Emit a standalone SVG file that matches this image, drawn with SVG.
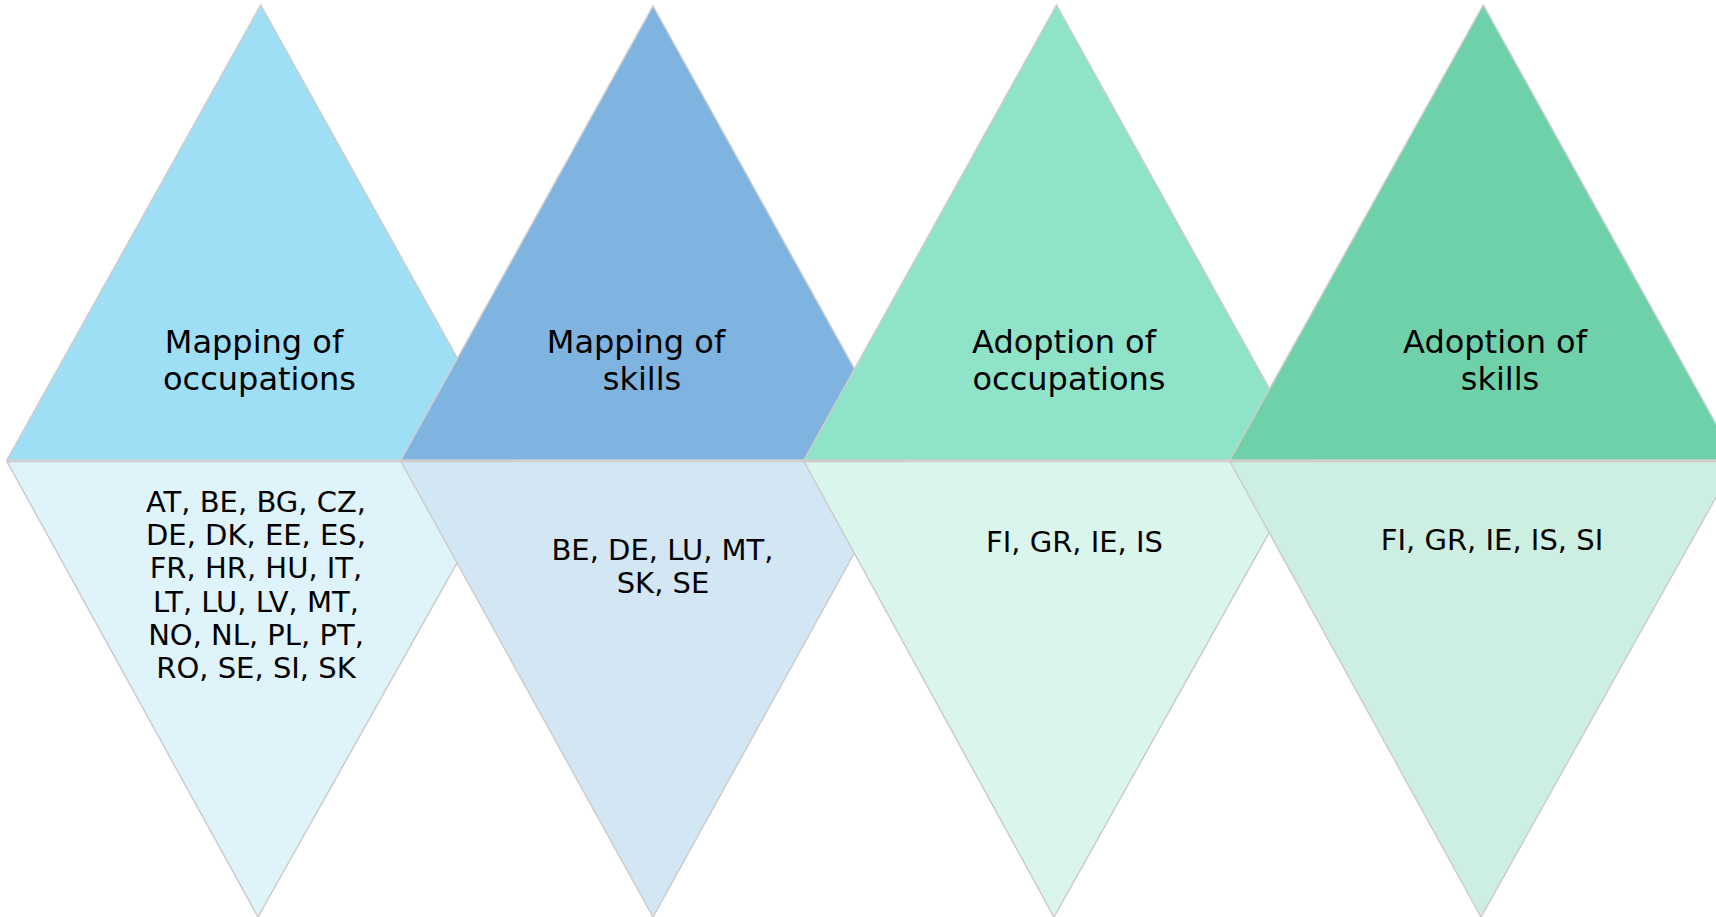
<svg xmlns="http://www.w3.org/2000/svg" width="1716" height="917" viewBox="0 0 1716 917">
<style>
.tri{stroke:#cccccc;stroke-width:1.5;stroke-linejoin:miter}
.t{font-family:"DejaVu Sans","Liberation Sans",sans-serif;fill:#000;text-anchor:middle}
.h{font-size:32px}
.b{font-size:29px}
</style>
<rect width="1716" height="917" fill="#ffffff"/>
<g id="bottom1"><polygon class="tri" fill="#dff3fb" points="7,461.5 514,461.5 258,917"/>
<text class="t b"><tspan x="256" y="511.7">AT, BE, BG, CZ,</tspan><tspan x="256" y="545">DE, DK, EE, ES,</tspan><tspan x="256" y="578.3">FR, HR, HU, IT,</tspan><tspan x="256" y="611.7">LT, LU, LV, MT,</tspan><tspan x="256" y="645">NO, NL, PL, PT,</tspan><tspan x="256" y="678.3">RO, SE, SI, SK</tspan></text></g>
<g id="bottom2"><polygon class="tri" fill="#d2e6f4" points="401,461.5 905,461.5 653,917"/>
<text class="t b"><tspan x="662.5" y="560">BE, DE, LU, MT,</tspan><tspan x="663" y="593">SK, SE</tspan></text></g>
<g id="bottom3"><polygon class="tri" fill="#daf5ec" points="804,461.5 1309,461.5 1054,917"/>
<text class="t b" x="1074.5" y="551.7">FI, GR, IE, IS</text></g>
<g id="bottom4"><polygon class="tri" fill="#cdefe1" points="1230,461.5 1736,461.5 1481,917"/>
<text class="t b" x="1492" y="550">FI, GR, IE, IS, SI</text></g>
<g id="top1"><polygon class="tri" fill="#9fdff5" points="260.7,5 514,460 7,460"/>
<text class="t h"><tspan x="254" y="353">Mapping of</tspan><tspan x="259.5" y="390">occupations</tspan></text></g>
<g id="top2"><polygon class="tri" fill="#7fb3e0" points="653,6 905,460 401,460"/>
<text class="t h"><tspan x="636" y="353">Mapping of</tspan><tspan x="642" y="390">skills</tspan></text></g>
<g id="top3"><polygon class="tri" fill="#8fe3c9" points="1056.5,5 1309,460 804,460"/>
<text class="t h"><tspan x="1064" y="353">Adoption of</tspan><tspan x="1069" y="390">occupations</tspan></text></g>
<g id="top4"><polygon class="tri" fill="#6fd1a9" points="1483.3,5 1736,460 1230,460"/>
<text class="t h"><tspan x="1495" y="353">Adoption of</tspan><tspan x="1500" y="390">skills</tspan></text></g>
<g id="connectors"></g>
</svg>
